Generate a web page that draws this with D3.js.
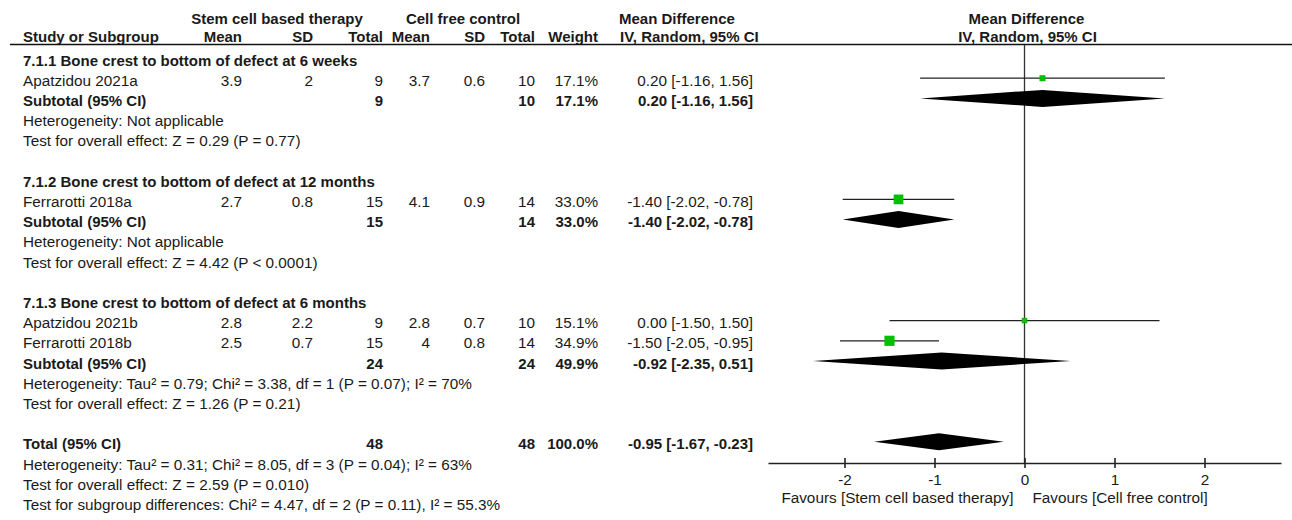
<!DOCTYPE html>
<html>
<head>
<meta charset="utf-8">
<script src="https://cdn.jsdelivr.net/npm/d3@7"></script>
<style>
  body { margin: 0; background: #fff; }
  svg text { font-family: "Liberation Sans", Arial, sans-serif; font-size: 15.3px; fill: #1a1a1a; }
  .b { font-weight: bold; font-size: 15px; }
</style>
</head>
<body>
<div id="forest"></div>
<script>
// study rows
const studyNames  = ["Apatzidou 2021a", "Ferrarotti 2018a", "Apatzidou 2021b", "Ferrarotti 2018b"];
const studyGroup  = [0, 1, 2, 2];
const stemMean    = [3.9, 2.7, 2.8, 2.5];
const stemSD      = [2, 0.8, 2.2, 0.7];
const stemN       = [9, 15, 9, 15];
const ctrlMean    = [3.7, 4.1, 2.8, 4];
const ctrlSD      = [0.6, 0.9, 0.7, 0.8];
const ctrlN       = [10, 14, 10, 14];
const studyWeight = [17.1, 33.0, 15.1, 34.9];
const studyMD     = [0.20, -1.40, 0.00, -1.50];
const studyLo     = [-1.16, -2.02, -1.50, -2.05];
const studyHi     = [1.56, -0.78, 1.50, -0.95];

// subgroups
const groupTitles = ["7.1.1 Bone crest to bottom of defect at 6 weeks",
                     "7.1.2 Bone crest to bottom of defect at 12 months",
                     "7.1.3 Bone crest to bottom of defect at 6 months"];
const subN1     = [9, 15, 24];
const subN2     = [10, 14, 24];
const subWeight = [17.1, 33.0, 49.9];
const subMD     = [0.20, -1.40, -0.92];
const subLo     = [-1.16, -2.02, -2.35];
const subHi     = [1.56, -0.78, 0.51];
const hetText   = ["Heterogeneity: Not applicable",
                   "Heterogeneity: Not applicable",
                   "Heterogeneity: Tau\u00b2 = 0.79; Chi\u00b2 = 3.38, df = 1 (P = 0.07); I\u00b2 = 70%"];
const effectText = ["Test for overall effect: Z = 0.29 (P = 0.77)",
                    "Test for overall effect: Z = 4.42 (P < 0.0001)",
                    "Test for overall effect: Z = 1.26 (P = 0.21)"];

// overall
const totalN1 = 48, totalN2 = 48, totalWeight = 100.0;
const totalMD = -0.95, totalLo = -1.67, totalHi = -0.23;
const totalNotes = ["Heterogeneity: Tau\u00b2 = 0.31; Chi\u00b2 = 8.05, df = 3 (P = 0.04); I\u00b2 = 63%",
                    "Test for overall effect: Z = 2.59 (P = 0.010)",
                    "Test for subgroup differences: Chi\u00b2 = 4.47, df = 2 (P = 0.11), I\u00b2 = 55.3%"];

const axisTicks = [-2, -1, 0, 1, 2];
const favLeft = "Favours [Stem cell based therapy]";
const favRight = "Favours [Cell free control]";

const W = 1292, H = 520;
const svg = d3.select("#forest").append("svg")
    .attr("width", W).attr("height", H);

const fmt2 = v => v.toFixed(2);
const ci = (m, l, h) => `${fmt2(m)} [${fmt2(l)}, ${fmt2(h)}]`;

// columns (right edges unless noted)
const col = { name: 23, m1: 242, sd1: 313, n1: 383, m2: 430, sd2: 485, n2: 535, w: 598, ci: 753 };

// build row list
const rows = [];
groupTitles.forEach((t, g) => {
  rows.push({ type: "title", text: t });
  studyNames.forEach((s, i) => { if (studyGroup[i] === g) rows.push({ type: "study", i }); });
  rows.push({ type: "sub", g });
  rows.push({ type: "note", text: hetText[g] });
  rows.push({ type: "note", text: effectText[g] });
  rows.push({ type: "blank" });
});
rows.push({ type: "total" });
totalNotes.forEach(t => rows.push({ type: "note", text: t }));

const yRow = d3.scaleLinear().domain([0, rows.length - 1]).range([58, 502.4]);
const x = d3.scaleLinear().domain([-2.85, 2.85]).range([768, 1281]);
const sq = d3.scaleLinear().domain([0, 35]).range([2, 10.2]);
const axisY = 463;

// headers
const hdr = svg.append("g");
const h = (xx, yy, anchor, t) => hdr.append("text").attr("class", "b")
  .attr("x", xx).attr("y", yy).attr("text-anchor", anchor).text(t);
h(277, 24, "middle", "Stem cell based therapy");
h(463, 24, "middle", "Cell free control");
h(619, 24, "start", "Mean Difference");
h(x(0) + 2, 24, "middle", "Mean Difference");
h(col.name, 42, "start", "Study or Subgroup");
[["m1", "Mean"], ["sd1", "SD"], ["n1", "Total"], ["m2", "Mean"], ["sd2", "SD"], ["n2", "Total"], ["w", "Weight"]]
  .forEach(([k, t]) => h(col[k], 42, "end", t));
h(620, 42, "start", "IV, Random, 95% CI");
h(x(0) + 3, 42, "middle", "IV, Random, 95% CI");

svg.append("line").attr("x1", 10).attr("x2", W).attr("y1", 44.5).attr("y2", 44.5)
  .attr("stroke", "#111").attr("stroke-width", 1.4);

// null line
svg.append("line").attr("x1", x(0)).attr("x2", x(0)).attr("y1", 45).attr("y2", axisY)
  .attr("stroke", "#333").attr("stroke-width", 1.3);

function cell(g, k, v, bold) {
  g.append("text").attr("x", col[k]).attr("text-anchor", "end").attr("class", bold ? "b" : null).text(v);
}
function diamond(y, m, l, hi) {
  svg.append("path")
    .attr("d", `M${x(l)},${y}L${x(m)},${y - 8.5}L${x(hi)},${y}L${x(m)},${y + 8.5}Z`)
    .attr("fill", "#000");
}

rows.forEach((r, idx) => {
  const y = yRow(idx);
  const g = svg.append("g").attr("transform", `translate(0,${y + 7.5})`);
  if (r.type === "title") {
    g.append("text").attr("x", col.name).attr("class", "b").text(r.text);
  } else if (r.type === "note") {
    g.append("text").attr("x", col.name).text(r.text);
  } else if (r.type === "study") {
    const i = r.i;
    g.append("text").attr("x", col.name).text(studyNames[i]);
    cell(g, "m1", stemMean[i]); cell(g, "sd1", stemSD[i]); cell(g, "n1", stemN[i]);
    cell(g, "m2", ctrlMean[i]); cell(g, "sd2", ctrlSD[i]); cell(g, "n2", ctrlN[i]);
    cell(g, "w", studyWeight[i].toFixed(1) + "%");
    cell(g, "ci", ci(studyMD[i], studyLo[i], studyHi[i]));
    svg.append("line").attr("x1", x(studyLo[i])).attr("x2", x(studyHi[i]))
      .attr("y1", y).attr("y2", y).attr("stroke", "#222").attr("stroke-width", 1.3);
    const s = sq(studyWeight[i]);
    svg.append("rect").attr("x", x(studyMD[i]) - s / 2).attr("y", y - s / 2)
      .attr("width", s).attr("height", s).attr("fill", "#00c000");
  } else if (r.type === "sub") {
    const k = r.g;
    g.append("text").attr("x", col.name).attr("class", "b").text("Subtotal (95% CI)");
    cell(g, "n1", subN1[k], true); cell(g, "n2", subN2[k], true);
    cell(g, "w", subWeight[k].toFixed(1) + "%", true);
    cell(g, "ci", ci(subMD[k], subLo[k], subHi[k]), true);
    diamond(y, subMD[k], subLo[k], subHi[k]);
  } else if (r.type === "total") {
    g.append("text").attr("x", col.name).attr("class", "b").text("Total (95% CI)");
    cell(g, "n1", totalN1, true); cell(g, "n2", totalN2, true);
    cell(g, "w", totalWeight.toFixed(1) + "%", true);
    cell(g, "ci", ci(totalMD, totalLo, totalHi), true);
    diamond(y, totalMD, totalLo, totalHi);
  }
});

// x axis
const ax = svg.append("g").attr("transform", `translate(0,${axisY})`)
  .call(d3.axisBottom(x).tickValues(axisTicks).tickSizeOuter(0).tickSizeInner(5).tickFormat(d => String(d)));
ax.select(".domain").attr("stroke", "#222").attr("stroke-width", 1.3);
ax.selectAll(".tick line").attr("y1", -5).attr("y2", 5).attr("stroke", "#222").attr("stroke-width", 1.6);
ax.selectAll(".tick text").attr("y", 22).attr("dy", null)
  .style("font-family", '"Liberation Sans", Arial, sans-serif').style("font-size", "15.3px").attr("fill", "#1a1a1a");

svg.append("text").attr("x", x(0) - 11).attr("y", axisY + 40).attr("text-anchor", "end").text(favLeft);
svg.append("text").attr("x", x(0) + 8).attr("y", axisY + 40).text(favRight);
</script>
</body>
</html>
